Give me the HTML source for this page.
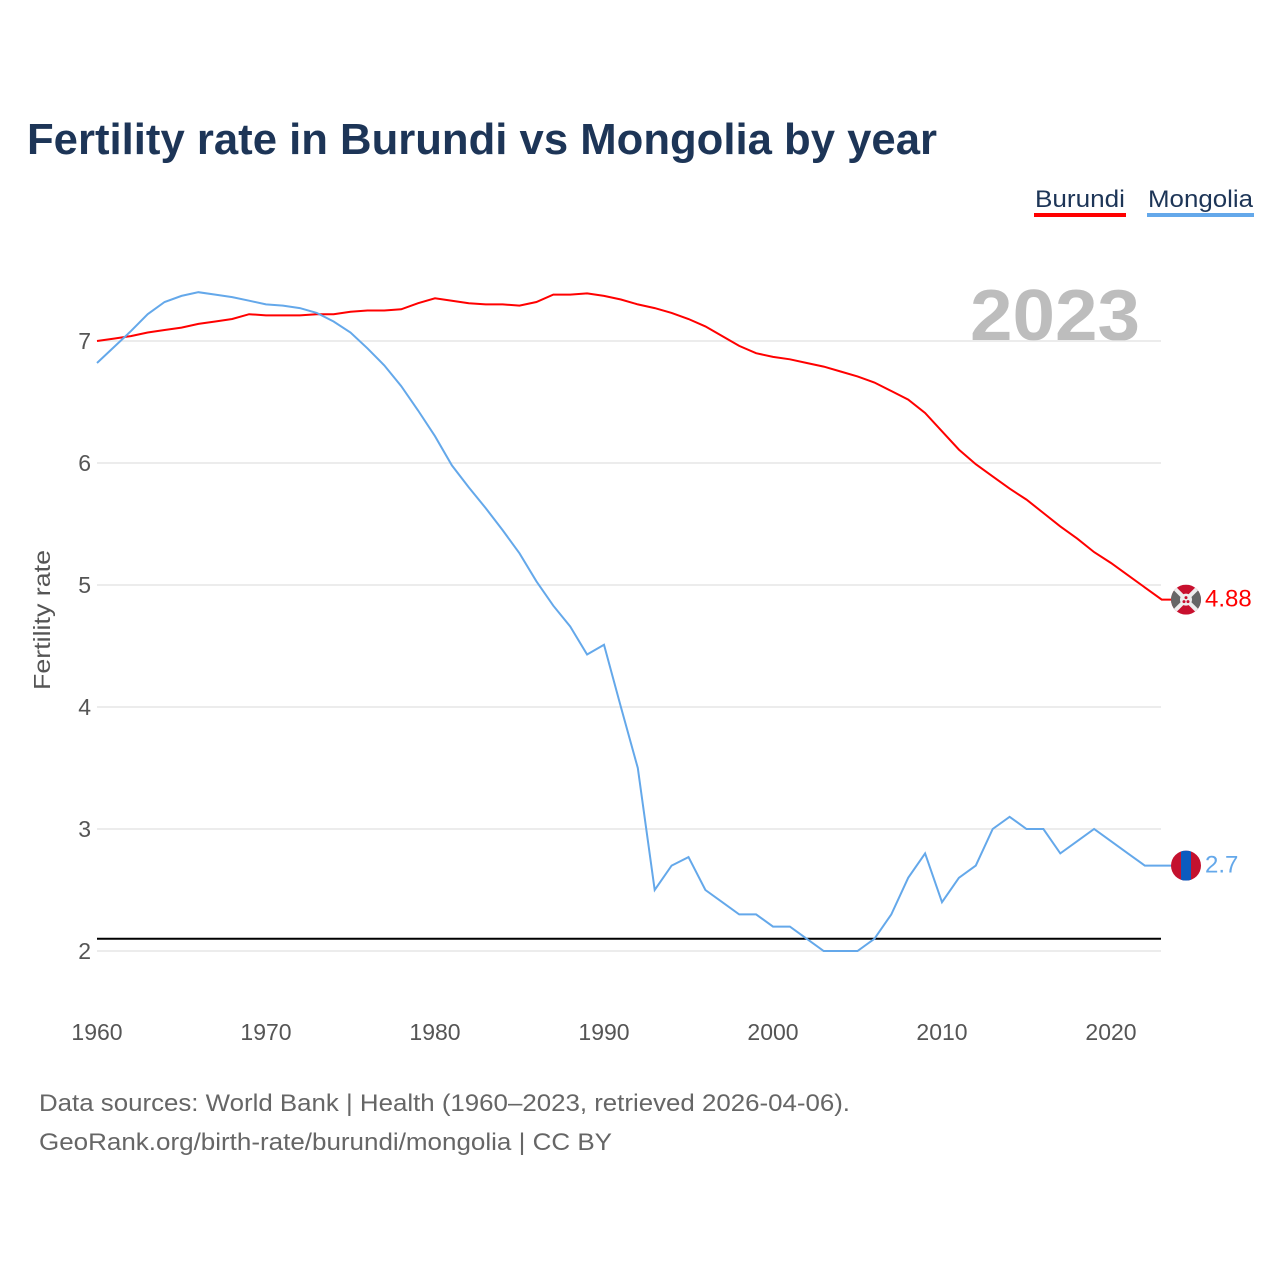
<!DOCTYPE html>
<html><head><meta charset="utf-8"><style>
body{margin:0;background:#fff;width:1280px;height:1280px;overflow:hidden;font-family:"Liberation Sans",sans-serif}
</style></head><body>
<svg id="chart" width="1280" height="1280" xmlns="http://www.w3.org/2000/svg" font-family="Liberation Sans, sans-serif">
<text x="27" y="154" font-size="44" font-weight="bold" fill="#1d3557" textLength="910" lengthAdjust="spacingAndGlyphs">Fertility rate in Burundi vs Mongolia by year</text>
<g><text x="1035" y="207" font-size="24" fill="#1d3557" textLength="90" lengthAdjust="spacingAndGlyphs">Burundi</text><rect x="1034" y="213" width="92" height="4" fill="#ff0000"/></g>
<g><text x="1148" y="207" font-size="24" fill="#1d3557" textLength="105" lengthAdjust="spacingAndGlyphs">Mongolia</text><rect x="1147" y="213" width="107" height="4" fill="#64a8ea"/></g>
<text x="970" y="340" font-size="72" font-weight="bold" fill="#bdbdbd" textLength="170" lengthAdjust="spacingAndGlyphs">2023</text>
<text transform="translate(50,620) rotate(-90)" font-size="23" fill="#555" text-anchor="middle" textLength="140" lengthAdjust="spacingAndGlyphs">Fertility rate</text>
<g id="grid"></g><g id="series"></g>
<text x="39" y="1111" font-size="24" fill="#666" textLength="811" lengthAdjust="spacingAndGlyphs">Data sources: World Bank | Health (1960–2023, retrieved 2026-04-06).</text>
<text x="39" y="1150" font-size="24" fill="#666" textLength="573" lengthAdjust="spacingAndGlyphs">GeoRank.org/birth-rate/burundi/mongolia | CC BY</text>
</svg>
<script>
const years=[];for(let y=1960;y<=2023;y++)years.push(y);
const yTicks=[2,3,4,5,6,7];
const xTicks=[1960,1970,1980,1990,2000,2010,2020];
const burundi=[7.0,7.02,7.04,7.07,7.09,7.11,7.14,7.16,7.18,7.22,7.21,7.21,7.21,7.22,7.22,7.24,7.25,7.25,7.26,7.31,7.35,7.33,7.31,7.30,7.30,7.29,7.32,7.38,7.38,7.39,7.37,7.34,7.30,7.27,7.23,7.18,7.12,7.04,6.96,6.90,6.87,6.85,6.82,6.79,6.75,6.71,6.66,6.59,6.52,6.41,6.26,6.11,5.99,5.89,5.79,5.70,5.59,5.48,5.38,5.27,5.18,5.08,4.98,4.88];
const mongolia=[6.82,6.95,7.08,7.22,7.32,7.37,7.40,7.38,7.36,7.33,7.30,7.29,7.27,7.23,7.16,7.07,6.94,6.80,6.63,6.43,6.22,5.98,5.80,5.63,5.45,5.26,5.03,4.83,4.66,4.43,4.51,4.00,3.50,2.50,2.70,2.77,2.50,2.40,2.30,2.30,2.20,2.20,2.10,2.00,2.00,2.00,2.10,2.30,2.60,2.80,2.40,2.60,2.70,3.00,3.10,3.00,3.00,2.80,2.90,3.00,2.90,2.80,2.70,2.70];
const replacement=2.1;
const X=y=>97+(y-1960)*(1014/60), Y=v=>341+(7-v)*122;
const NS="http://www.w3.org/2000/svg";
const grid=document.getElementById('grid'), ser=document.getElementById('series');
function mk(tag,attrs,parent){const e=document.createElementNS(NS,tag);for(const k in attrs)e.setAttribute(k,attrs[k]);parent.appendChild(e);return e;}
yTicks.forEach(t=>{
 const l=mk('line',{x1:97,x2:1161,y1:Y(t),y2:Y(t),stroke:'#e6e6e6','stroke-width':1.5},grid);
 
 
 const tx=mk('text',{x:91,y:Y(t)+8,'font-size':23,fill:'#555','text-anchor':'end'},grid);tx.textContent=t;
 
 
});
xTicks.forEach(t=>{
 const tx=mk('text',{x:X(t),y:1040,'font-size':23,fill:'#555','text-anchor':'middle'},grid);tx.textContent=t;
 
 
});
const rl=mk('line',{x1:97,x2:1161,y1:Y(replacement),y2:Y(replacement),stroke:'#000','stroke-width':2},ser);


function series(vals,color,name,label){
 let d=vals.map((v,i)=>(i?'L':'M')+X(years[i]).toFixed(1)+','+Y(v).toFixed(1)).join('');
 d+='L1180,'+Y(vals[vals.length-1]).toFixed(1);
 const p=mk('path',{d:d,fill:'none',stroke:color,'stroke-width':2},ser);
 
 
 const t=mk('text',{x:1205,y:Y(vals[vals.length-1])+7,'font-size':24,fill:color},ser);t.textContent=label;
 
 
}
series(burundi,'#ff0000','burundi','4.88');
series(mongolia,'#64a8ea','mongolia','2.7');
const by=Y(burundi[burundi.length-1]), my=Y(mongolia[mongolia.length-1]);
const fb=mk('g',{},ser);


fb.innerHTML=`<clipPath id="cb"><circle cx="1186" cy="${by}" r="15"/></clipPath><g clip-path="url(#cb)"><rect x="1171" y="${by-15}" width="30" height="30" fill="#c8102e"/><polygon points="1171,${by-15} 1186,${by} 1171,${by+15}" fill="#666"/><polygon points="1201,${by-15} 1186,${by} 1201,${by+15}" fill="#666"/><line x1="1171" y1="${by-15}" x2="1201" y2="${by+15}" stroke="#eee" stroke-width="4"/><line x1="1201" y1="${by-15}" x2="1171" y2="${by+15}" stroke="#eee" stroke-width="4"/><circle cx="1186" cy="${by}" r="6" fill="#eee"/><circle cx="1186" cy="${by-2}" r="1.5" fill="#c8102e"/><circle cx="1184" cy="${by+2}" r="1.5" fill="#c8102e"/><circle cx="1188" cy="${by+2}" r="1.5" fill="#c8102e"/></g>`;
const fm=mk('g',{},ser);


fm.innerHTML=`<clipPath id="cm"><circle cx="1186" cy="${my}" r="15"/></clipPath><g clip-path="url(#cm)"><rect x="1171" y="${my-15}" width="30" height="30" fill="#c4122f"/><rect x="1181" y="${my-15}" width="10" height="30" fill="#0b5bbf"/></g>`;
</script>
</body></html>
